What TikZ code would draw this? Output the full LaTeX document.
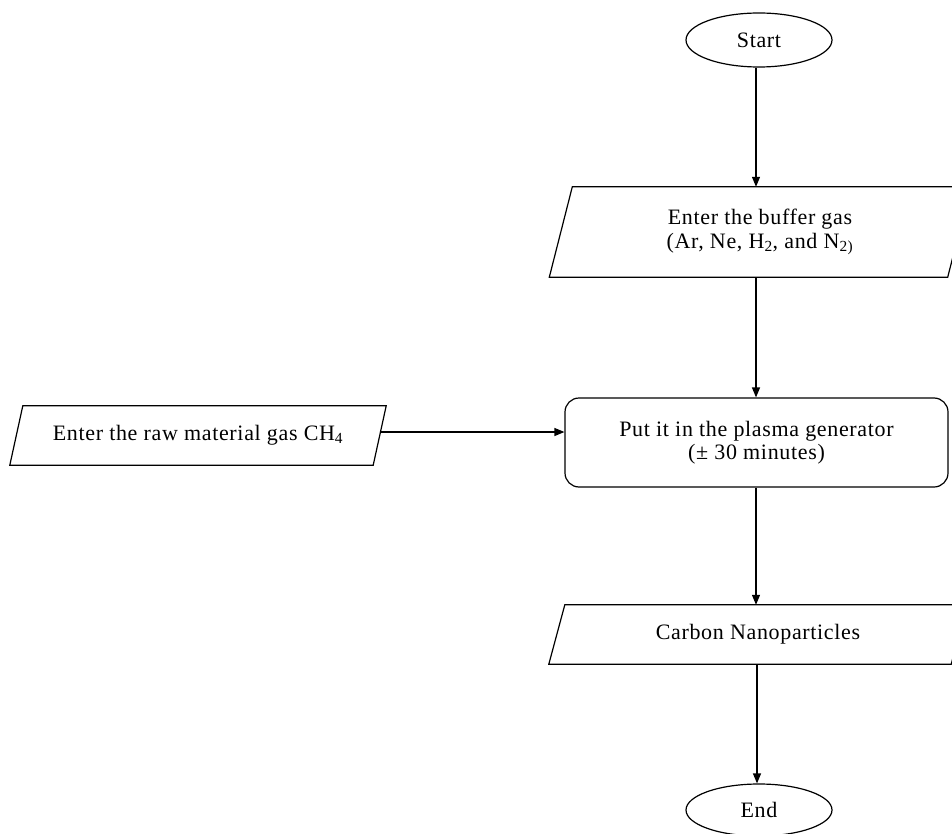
\documentclass[tikz,border=0pt]{standalone}
\usepackage{fontspec}
\setmainfont[LetterSpace=3]{Liberation Serif}
\usetikzlibrary{shapes.geometric,arrows.meta}
\begin{document}
\begin{tikzpicture}[x=1pt,y=-1pt,
  every node/.style={font=\fontsize{22}{23.5}\selectfont, align=center, inner sep=0pt},
  outline/.style={draw=black, line width=1.2pt},
  term/.style={ellipse, outline, minimum width=146pt, minimum height=54pt},
  iobox/.style={rectangle},
  procbox/.style={rectangle, outline, rounded corners=14pt},
  flow/.style={draw=black, line width=1.2pt, -{Triangle[length=10pt,width=8pt]}}
]
\useasboundingbox (0,0) rectangle (952,834);
\fill[white] (0,0) rectangle (952,834);
\clip (0,0) rectangle (952,834);

\node[term] (start) at (759,40) {Start};

\node[iobox, minimum width=398pt, minimum height=90pt] (buf) at (760,232)
  {Enter the buffer gas\\(Ar, Ne, H\textsubscript{2}, and N\textsubscript{2)}};
\draw[outline] ([xshift=11.5pt]buf.north west) -- ([xshift=11.5pt]buf.north east)
  -- ([xshift=-11.5pt]buf.south east) -- ([xshift=-11.5pt]buf.south west) -- cycle;

\node[iobox, minimum width=363pt, minimum height=59pt] (raw) at (198,435.5)
  {Enter the raw material gas CH\textsubscript{4}};
\draw[outline] ([xshift=6.5pt]raw.north west) -- ([xshift=6.5pt]raw.north east)
  -- ([xshift=-6.5pt]raw.south east) -- ([xshift=-6.5pt]raw.south west) -- cycle;

\node[procbox, minimum width=383pt, minimum height=89pt] (plasma) at (756.5,442.5)
  {Put it in the plasma generator\\(± 30 minutes)};

\node[iobox, minimum width=402pt, minimum height=59pt] (carbon) at (758,634.5)
  {Carbon Nanoparticles};
\draw[outline] ([xshift=8pt]carbon.north west) -- ([xshift=8pt]carbon.north east)
  -- ([xshift=-8pt]carbon.south east) -- ([xshift=-8pt]carbon.south west) -- cycle;

\node[term, minimum height=52pt] (end) at (759,810) {End};

\draw[flow] (756,0 |- start.south) -- (756,0 |- buf.north);
\draw[flow] (756,0 |- buf.south) -- (756,0 |- plasma.north);
\draw[flow] ([yshift=3.5pt]raw.east) -- ([yshift=3.5pt]raw.east -| plasma.west);
\draw[flow] (756,0 |- plasma.south) -- (756,0 |- carbon.north);
\draw[flow] (757,0 |- carbon.south) -- (757,0 |- end.north);
\end{tikzpicture}
\end{document}
